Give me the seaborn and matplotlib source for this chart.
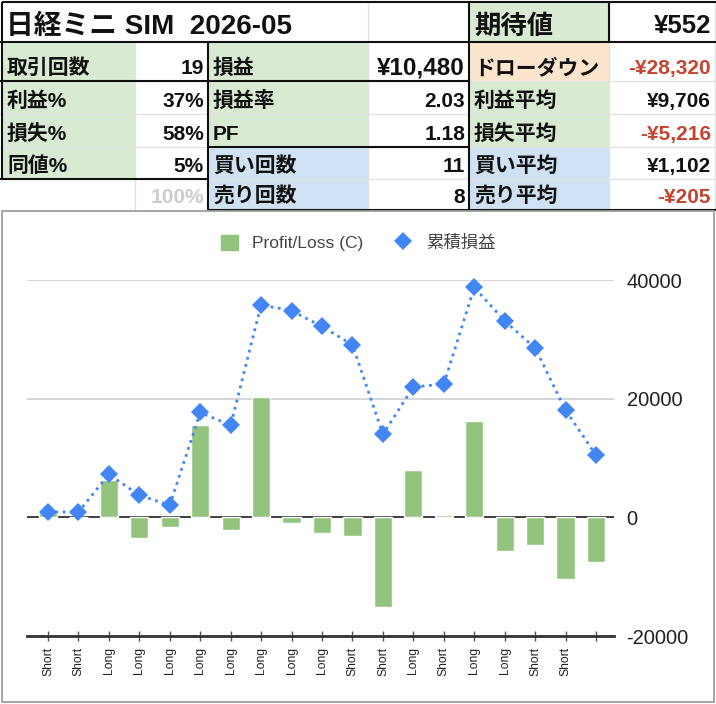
import numpy as np
import matplotlib.pyplot as plt
import seaborn as sns
from matplotlib.patches import Rectangle, Patch
from matplotlib.lines import Line2D

sns.set_style("white")
plt.rcParams['font.family'] = ['Liberation Sans', 'Noto Sans CJK JP', 'DejaVu Sans']

# chart data (one entry per trade)
sides = ["Short", "Short", "Long", "Long", "Long", "Long", "Long", "Long", "Long", "Long",
         "Short", "Short", "Long", "Short", "Long", "Long", "Short", "Short", ""]
profit_loss = [900, 0, 6350, -3550, -1630, 15600, -2150, 20300, -1000, -2650,
               -3100, -15070, 7980, 460, 16310, -5630, -4610, -10460, -7570]
cumulative = [900, 900, 7250, 3700, 2070, 17670, 15520, 35820, 34820, 32170,
              29070, 14000, 21980, 22440, 38750, 33120, 28510, 18050, 10480]
y_ticks = [-20000, 0, 20000, 40000]

# summary table
title = "日経ミニ SIM  2026-05"
expect_label = "期待値"
expect_value = "¥552"
col1_labels = ["取引回数", "利益%", "損失%", "同値%", ""]
col1_values = ["19", "37%", "58%", "5%", "100%"]
col2_labels = ["損益", "損益率", "PF", "買い回数", "売り回数"]
col2_values = ["¥10,480", "2.03", "1.18", "11", "8"]
col3_labels = ["ドローダウン", "利益平均", "損失平均", "買い平均", "売り平均"]
col3_values = ["-¥28,320", "¥9,706", "-¥5,216", "¥1,102", "-¥205"]

GREEN = "#d9ead3"
BLUE = "#cfe2f3"
ORANGE = "#fce5cd"
WHITE = "#ffffff"
RED = "#c5432f"
col1_fill = [GREEN, GREEN, GREEN, GREEN, WHITE]
col2_fill = [GREEN, GREEN, GREEN, BLUE, BLUE]
col3_fill = [ORANGE, GREEN, GREEN, BLUE, BLUE]

fig = plt.figure(figsize=(7.16, 7.04), dpi=100)

# ---- table, drawn in pixel coordinates ----
ax_t = fig.add_axes([0, 1 - 212 / 704, 1, 212 / 704])
ax_t.set_xlim(0, 716)
ax_t.set_ylim(212, 0)
ax_t.axis("off")

xs = [2, 135, 208, 368, 469, 609, 715]
ys = [2, 42, 81, 114, 147, 179, 210]
bold = dict(fontweight="bold", color="#111111")

# header row
ax_t.add_patch(Rectangle((xs[4], ys[0]), xs[5] - xs[4], ys[1] - ys[0], color=GREEN, lw=0))
ax_t.text(6, 34, title, fontsize=20, va="baseline", ha="left", **bold)
ax_t.text(xs[4] + 5, 34, expect_label, fontsize=19, va="baseline", ha="left", **bold)
ax_t.text(xs[6] - 4, 33, expect_value, fontsize=18.5, va="baseline", ha="right", **bold)

# body rows
cols = [(col1_labels, col1_values, col1_fill),
        (col2_labels, col2_values, col2_fill),
        (col3_labels, col3_values, col3_fill)]
for c, (labels, values, fills) in enumerate(cols):
    x0, x1, x2 = xs[2 * c], xs[2 * c + 1], xs[2 * c + 2]
    for r in range(5):
        y0, y1 = ys[r + 1], ys[r + 2]
        ax_t.add_patch(Rectangle((x0, y0), x1 - x0, y1 - y0, color=fills[r], lw=0))
        yb = y1 - 7
        ax_t.text(x0 + 5, yb, labels[r], fontsize=15, va="baseline", ha="left", **bold)
        val = values[r]
        vcol = RED if val.startswith("-") else ("#cccccc" if val == "100%" else "#111111")
        vsize = 17.5 if val == "¥10,480" else 15
        ax_t.text(x2 - 4, yb, val, fontsize=vsize, va="baseline", ha="right",
                  fontweight="bold", color=vcol)

# light grid lines
for x in xs[1:]:
    y_start = ys[1] if x in (135, 208) else ys[0]
    ax_t.plot([x, x], [y_start, ys[-1]], color="#e2e2e2", lw=1, zorder=1)
for y in ys[2:-1]:
    ax_t.plot([0, 716], [y, y], color="#e2e2e2", lw=1, zorder=1)

# black borders
black = dict(color="#111111", lw=1.5, zorder=3, solid_capstyle="butt")
ax_t.plot([xs[0], 716], [ys[0], ys[0]], **black)
ax_t.plot([0, 716], [ys[1], ys[1]], **black)
ax_t.plot([xs[0], xs[0]], [ys[0], ys[5]], **black)
ax_t.plot([xs[4], xs[4]], [ys[0], ys[6]], **black)
ax_t.plot([xs[5], xs[5]], [ys[0], ys[1]], **black)
ax_t.plot([xs[2], xs[2]], [ys[1], ys[6]], **black)
ax_t.plot([0, xs[4]], [ys[2], ys[2]], **black)
ax_t.plot([0, xs[2]], [ys[5], ys[5]], **black)
ax_t.plot([xs[2], xs[4]], [ys[4], ys[4]], **black)
ax_t.plot([xs[2], 716], [ys[6], ys[6]], **black)

# ---- chart ----
fig.patches.append(Rectangle((2 / 716, 2 / 704), 712 / 716, 491 / 704,
                             transform=fig.transFigure, fill=False,
                             edgecolor="#9e9e9e", lw=1.3))

ax = fig.add_axes([27 / 716, (704 - 636) / 704, (614 - 27) / 716, (636 - 280) / 704])
positions = np.arange(len(profit_loss))
sns.barplot(x=positions, y=profit_loss, color="#93c47d", saturation=1,
            width=0.6, errorbar=None, ax=ax)
for p in ax.patches:
    p.set_zorder(2.5)
sns.lineplot(x=positions, y=cumulative, color="#4285f4", linestyle=":", lw=2.0,
             marker="D", markersize=9.5, markeredgewidth=0, ax=ax)
for ln in ax.lines:
    ln.set_clip_on(False)
    ln.set_zorder(3)

ax.set_xlim(-0.69, 18.59)
ax.set_ylim(-20000, 40000)
ax.set_yticks(y_ticks)
ax.set_yticklabels([str(v) for v in y_ticks], fontsize=14.5, color="#222222")
ax.yaxis.tick_right()
ax.tick_params(axis="y", length=0, pad=9)
ax.set_xticks(positions)
ax.set_xticklabels(sides, rotation=90, fontsize=8.7, color="#222222")
ax.tick_params(axis="x", direction="inout", length=7, width=1, color="#555555", pad=4,
               bottom=True)
ax.grid(axis="y", color="#d0d0d0", lw=1.2)
ax.set_axisbelow(True)
ax.axhline(0, color="#333333", lw=1.3, zorder=2)
for s in ["top", "left", "right"]:
    ax.spines[s].set_visible(False)
ax.spines["bottom"].set_color("#333333")
ax.spines["bottom"].set_linewidth(2)
ax.set_xlabel("")
ax.set_ylabel("")

handles = [Patch(color="#93c47d", label="Profit/Loss (C)"),
           Line2D([], [], color="#4285f4", marker="D", markersize=9, lw=0,
                  markeredgewidth=0, label="累積損益")]
fig.legend(handles=handles, loc="center", bbox_to_anchor=(358 / 716, 1 - 243 / 704),
           ncol=2, frameon=False, fontsize=12.5, handlelength=1.0, handleheight=1.0,
           columnspacing=1.8, handletextpad=0.8, labelcolor="#444444")

fig.savefig("out.png", dpi=100)
